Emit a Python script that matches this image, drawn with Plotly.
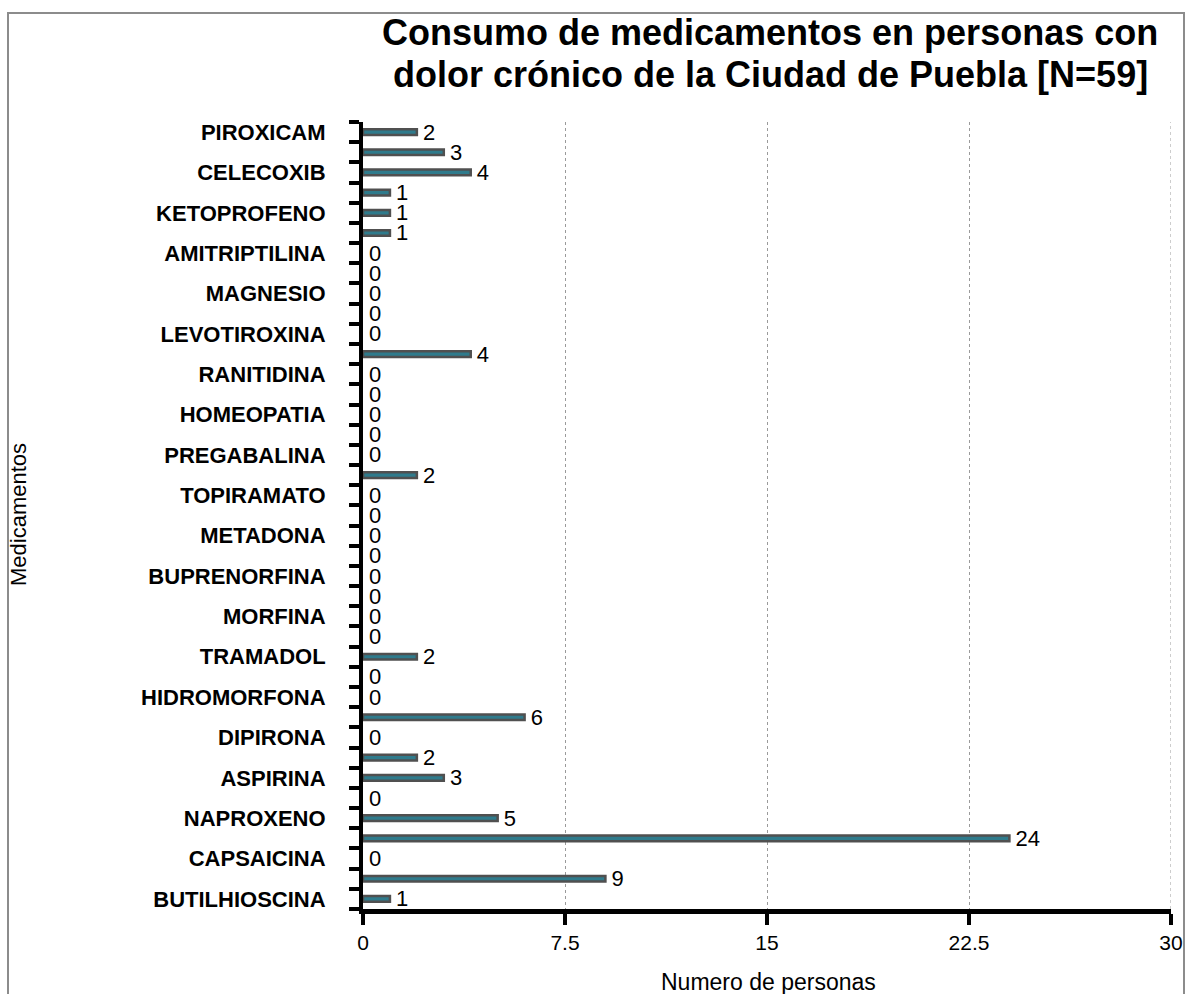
import plotly.graph_objects as go

# ---- data (top to bottom) ----
categorias = ["PIROXICAM", None, "CELECOXIB", None, "KETOPROFENO", None,
              "AMITRIPTILINA", None, "MAGNESIO", None, "LEVOTIROXINA", None,
              "RANITIDINA", None, "HOMEOPATIA", None, "PREGABALINA", None,
              "TOPIRAMATO", None, "METADONA", None, "BUPRENORFINA", None,
              "MORFINA", None, "TRAMADOL", None, "HIDROMORFONA", None,
              "DIPIRONA", None, "ASPIRINA", None, "NAPROXENO", None,
              "CAPSAICINA", None, "BUTILHIOSCINA"]
personas = [2, 3, 4, 1, 1, 1,
            0, 0, 0, 0, 0,
            4,
            0, 0, 0, 0, 0,
            2,
            0, 0, 0, 0, 0, 0, 0, 0,
            2,
            0, 0,
            6,
            0,
            2, 3,
            0,
            5, 24,
            0,
            9, 1]
x_ticks = [0, 7.5, 15, 22.5, 30]
x_tick_labels = ["0", "7.5", "15", "22.5", "30"]

titulo_1 = "Consumo de medicamentos en personas con"
titulo_2 = "dolor crónico de la Ciudad de Puebla [N=59]"
x_titulo = "Numero de personas"
y_titulo = "Medicamentos"

FONT = "Liberation Sans, Arial, sans-serif"

posiciones = list(range(len(personas)))
label_pos = [i for i, c in enumerate(categorias) if c]
label_txt = [c for c in categorias if c]

fig = go.Figure()
fig.add_trace(go.Bar(
    x=personas,
    y=posiciones,
    orientation="h",
    width=0.28,
    marker=dict(color="#2f7b8c",
                line=dict(color="#505050",
                          width=[2.5 if v > 0 else 0 for v in personas])),
    text=[str(v) for v in personas],
    texttemplate="\u00a0%{text}",
    textposition="outside",
    constraintext="none",
    cliponaxis=False,
    textfont=dict(family=FONT, size=22, color="black"),
    hoverinfo="x+y",
))

# plot area geometry (px)
L, R, T, B = 363, 1171, 122, 909
W, H = 1186, 994
pw, ph = R - L, B - T

def px_x(x):
    return (x - L) / pw

def px_y(y):
    return (B - y) / ph

fig.update_layout(
    width=W, height=H, autosize=False,
    margin=dict(l=L, r=W - R, t=T, b=H - B, pad=0, autoexpand=False),
    paper_bgcolor="white",
    plot_bgcolor="white",
    showlegend=False,
    font=dict(family=FONT, color="black"),
    xaxis=dict(range=[0, 30], tickmode="array", tickvals=x_ticks, ticktext=x_tick_labels,
               automargin=False,
               showline=True, linewidth=5, linecolor="black",
               ticks="outside", ticklen=11, tickwidth=4, tickcolor="black",
               showgrid=True, gridcolor="#9a9a9a", griddash="dot", gridwidth=1,
               zeroline=False,
               tickfont=dict(family=FONT, size=21, color="black")),
    yaxis=dict(range=[len(personas) - 0.5, -0.5], tickmode="array",
               tickvals=label_pos, ticktext=["<b>" + t + "</b>" for t in label_txt],
               automargin=False,
               ticks="", ticklabelstandoff=29,
               showline=True, linewidth=4, linecolor="black",
               showgrid=False, zeroline=False,
               minor=dict(tickmode="array",
                          tickvals=[i - 0.5 for i in range(len(personas) + 1)],
                          ticks="outside", ticklen=10, tickwidth=3.5, tickcolor="black",
                          showgrid=False),
               tickfont=dict(family=FONT, size=22, color="black")),
    shapes=[
        dict(type="rect", xref="paper", yref="paper",
             x0=px_x(8), x1=px_x(1184), y0=px_y(1000), y1=px_y(13),
             line=dict(color="#8c8c8c", width=2), fillcolor="rgba(0,0,0,0)",
             layer="below"),
        # gridline at the last tick (edge of plot area)
        dict(type="line", xref="x", yref="paper",
             x0=x_ticks[-1], x1=x_ticks[-1], y0=0, y1=1,
             line=dict(color="#9a9a9a", width=1, dash="dot"), layer="below"),
    ],
    annotations=[
        dict(text="<b>" + titulo_1 + "</b>", xref="paper", yref="paper",
             x=px_x(770), y=px_y(33), xanchor="center", yanchor="middle",
             showarrow=False, font=dict(family=FONT, size=36, color="black")),
        dict(text="<b>" + titulo_2 + "</b>", xref="paper", yref="paper",
             x=px_x(770), y=px_y(75), xanchor="center", yanchor="middle",
             showarrow=False, font=dict(family=FONT, size=36, color="black")),
        dict(text=x_titulo, xref="paper", yref="paper", x=px_x(768), y=px_y(982),
             xanchor="center", yanchor="middle", showarrow=False,
             font=dict(family=FONT, size=23, color="black")),
        dict(text=y_titulo, xref="paper", yref="paper", x=px_x(18), y=px_y(515),
             xanchor="center", yanchor="middle", showarrow=False, textangle=-90,
             font=dict(family=FONT, size=22, color="black")),
    ],
)

fig.write_html("out.html", config={"responsive": False})
